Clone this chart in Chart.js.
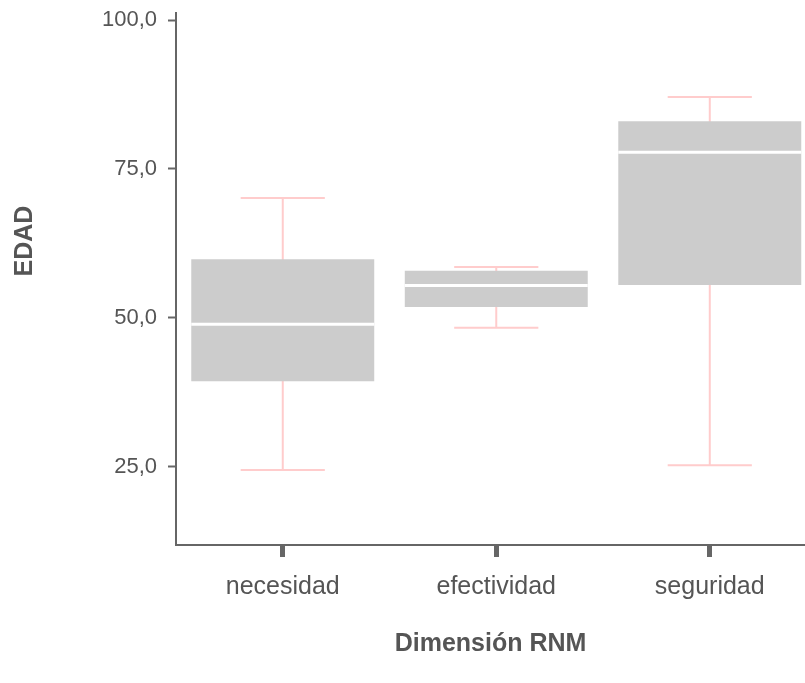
<!DOCTYPE html>
<html>
<head>
<meta charset="utf-8">
<script src="https://cdn.jsdelivr.net/npm/chart.js@4.4.1/dist/chart.umd.min.js"></script>
<style>
  html, body { margin: 0; padding: 0; background: #ffffff; }
  #wrap { width: 805px; height: 683px; }
</style>
</head>
<body>
<div id="wrap"><canvas id="boxChart" width="805" height="683"></canvas></div>
<script>
const categories = ['necesidad', 'efectividad', 'seguridad'];
const whiskerLow = [24.4, 48.3, 25.2];
const q1 = [39.3, 51.8, 55.5];
const median = [48.9, 55.4, 77.8];
const q3 = [59.8, 57.9, 83.0];
const whiskerHigh = [70.1, 58.5, 87.1];
const yTicks = [25, 50, 75, 100];

const textColor = '#555555';
const axisColor = '#666666';
const fontFamily = "'Liberation Sans', Arial, sans-serif";

// whiskers go under the boxes, medians on top, y title placed by hand
const boxExtras = {
    id: 'boxExtras',
    beforeDatasetsDraw(chart) {
        const ctx = chart.ctx;
        const yScale = chart.scales.y;
        const meta = chart.getDatasetMeta(0);
        ctx.save();
        ctx.strokeStyle = '#ffcccc';
        ctx.lineWidth = 2;
        meta.data.forEach(function (bar, i) {
            const capHalf = bar.width * 0.23;
            const yLow = yScale.getPixelForValue(whiskerLow[i]);
            const yHigh = yScale.getPixelForValue(whiskerHigh[i]);
            ctx.beginPath();
            ctx.moveTo(bar.x, yLow);
            ctx.lineTo(bar.x, yHigh);
            ctx.moveTo(bar.x - capHalf, yLow);
            ctx.lineTo(bar.x + capHalf, yLow);
            ctx.moveTo(bar.x - capHalf, yHigh);
            ctx.lineTo(bar.x + capHalf, yHigh);
            ctx.stroke();
        });
        ctx.restore();
    },
    afterDatasetsDraw(chart) {
        const ctx = chart.ctx;
        const yScale = chart.scales.y;
        const meta = chart.getDatasetMeta(0);
        ctx.save();
        ctx.strokeStyle = '#ffffff';
        ctx.lineWidth = 3;
        meta.data.forEach(function (bar, i) {
            const y = yScale.getPixelForValue(median[i]);
            ctx.beginPath();
            ctx.moveTo(bar.x - bar.width / 2, y);
            ctx.lineTo(bar.x + bar.width / 2, y);
            ctx.stroke();
        });
        ctx.restore();
    },
    afterDraw(chart) {
        const ctx = chart.ctx;
        ctx.save();
        ctx.translate(25, 241);
        ctx.rotate(-Math.PI / 2);
        ctx.fillStyle = textColor;
        ctx.font = 'bold 25px ' + fontFamily;
        ctx.textAlign = 'center';
        ctx.textBaseline = 'middle';
        ctx.fillText('EDAD', 0, 0);
        ctx.restore();
    }
};

const chartConfig = {
    type: 'bar',
    data: {
        datasets: [{
            data: categories.map(function (c, i) { return { x: i, y: [q1[i], q3[i]] }; }),
            backgroundColor: '#cccccc',
            borderWidth: 0,
            barPercentage: 0.857,
            categoryPercentage: 1
        }]
    },
    options: {
        responsive: false,
        animation: false,
        layout: { padding: { top: 13, left: 0, right: 0, bottom: 0 } },
        plugins: {
            legend: { display: false },
            tooltip: { enabled: false }
        },
        scales: {
            x: {
                type: 'linear',
                offset: false,
                min: -0.5,
                max: 2.446,
                afterBuildTicks: function (scale) {
                    scale.ticks = categories.map(function (c, i) { return { value: i }; });
                },
                afterFit: function (scale) {
                    scale.height = 138;
                    scale.paddingLeft = 0;
                    scale.paddingRight = 0;
                },
                ticks: {
                    color: textColor,
                    font: { family: fontFamily, size: 25 },
                    padding: 15,
                    maxRotation: 0,
                    callback: function (v) { return categories[v]; }
                },
                grid: {
                    offset: false,
                    drawOnChartArea: false,
                    drawTicks: true,
                    tickLength: 12,
                    tickWidth: 5,
                    tickColor: axisColor
                },
                border: { display: true, color: axisColor, width: 2 },
                title: {
                    display: true,
                    text: 'Dimensión RNM',
                    color: textColor,
                    font: { family: fontFamily, size: 25, weight: 'bold' },
                    padding: { top: 4, bottom: 24 }
                }
            },
            y: {
                min: 11.8,
                max: 101.2,
                afterBuildTicks: function (scale) {
                    scale.ticks = yTicks.map(function (v) { return { value: v }; });
                },
                afterFit: function (scale) {
                    scale.width = 176;
                    scale.paddingTop = 0;
                    scale.paddingBottom = 0;
                },
                ticks: {
                    color: textColor,
                    font: { family: fontFamily, size: 22 },
                    padding: 11,
                    callback: function (v) { return v.toFixed(1).replace('.', ','); }
                },
                grid: {
                    drawOnChartArea: false,
                    drawTicks: true,
                    tickLength: 8,
                    tickWidth: 2,
                    tickColor: axisColor
                },
                border: { display: true, color: axisColor, width: 2 }
            }
        }
    },
    plugins: [boxExtras]
};

const ctx = document.getElementById('boxChart').getContext('2d');
const boxChart = new Chart(ctx, chartConfig);
</script>
</body>
</html>
